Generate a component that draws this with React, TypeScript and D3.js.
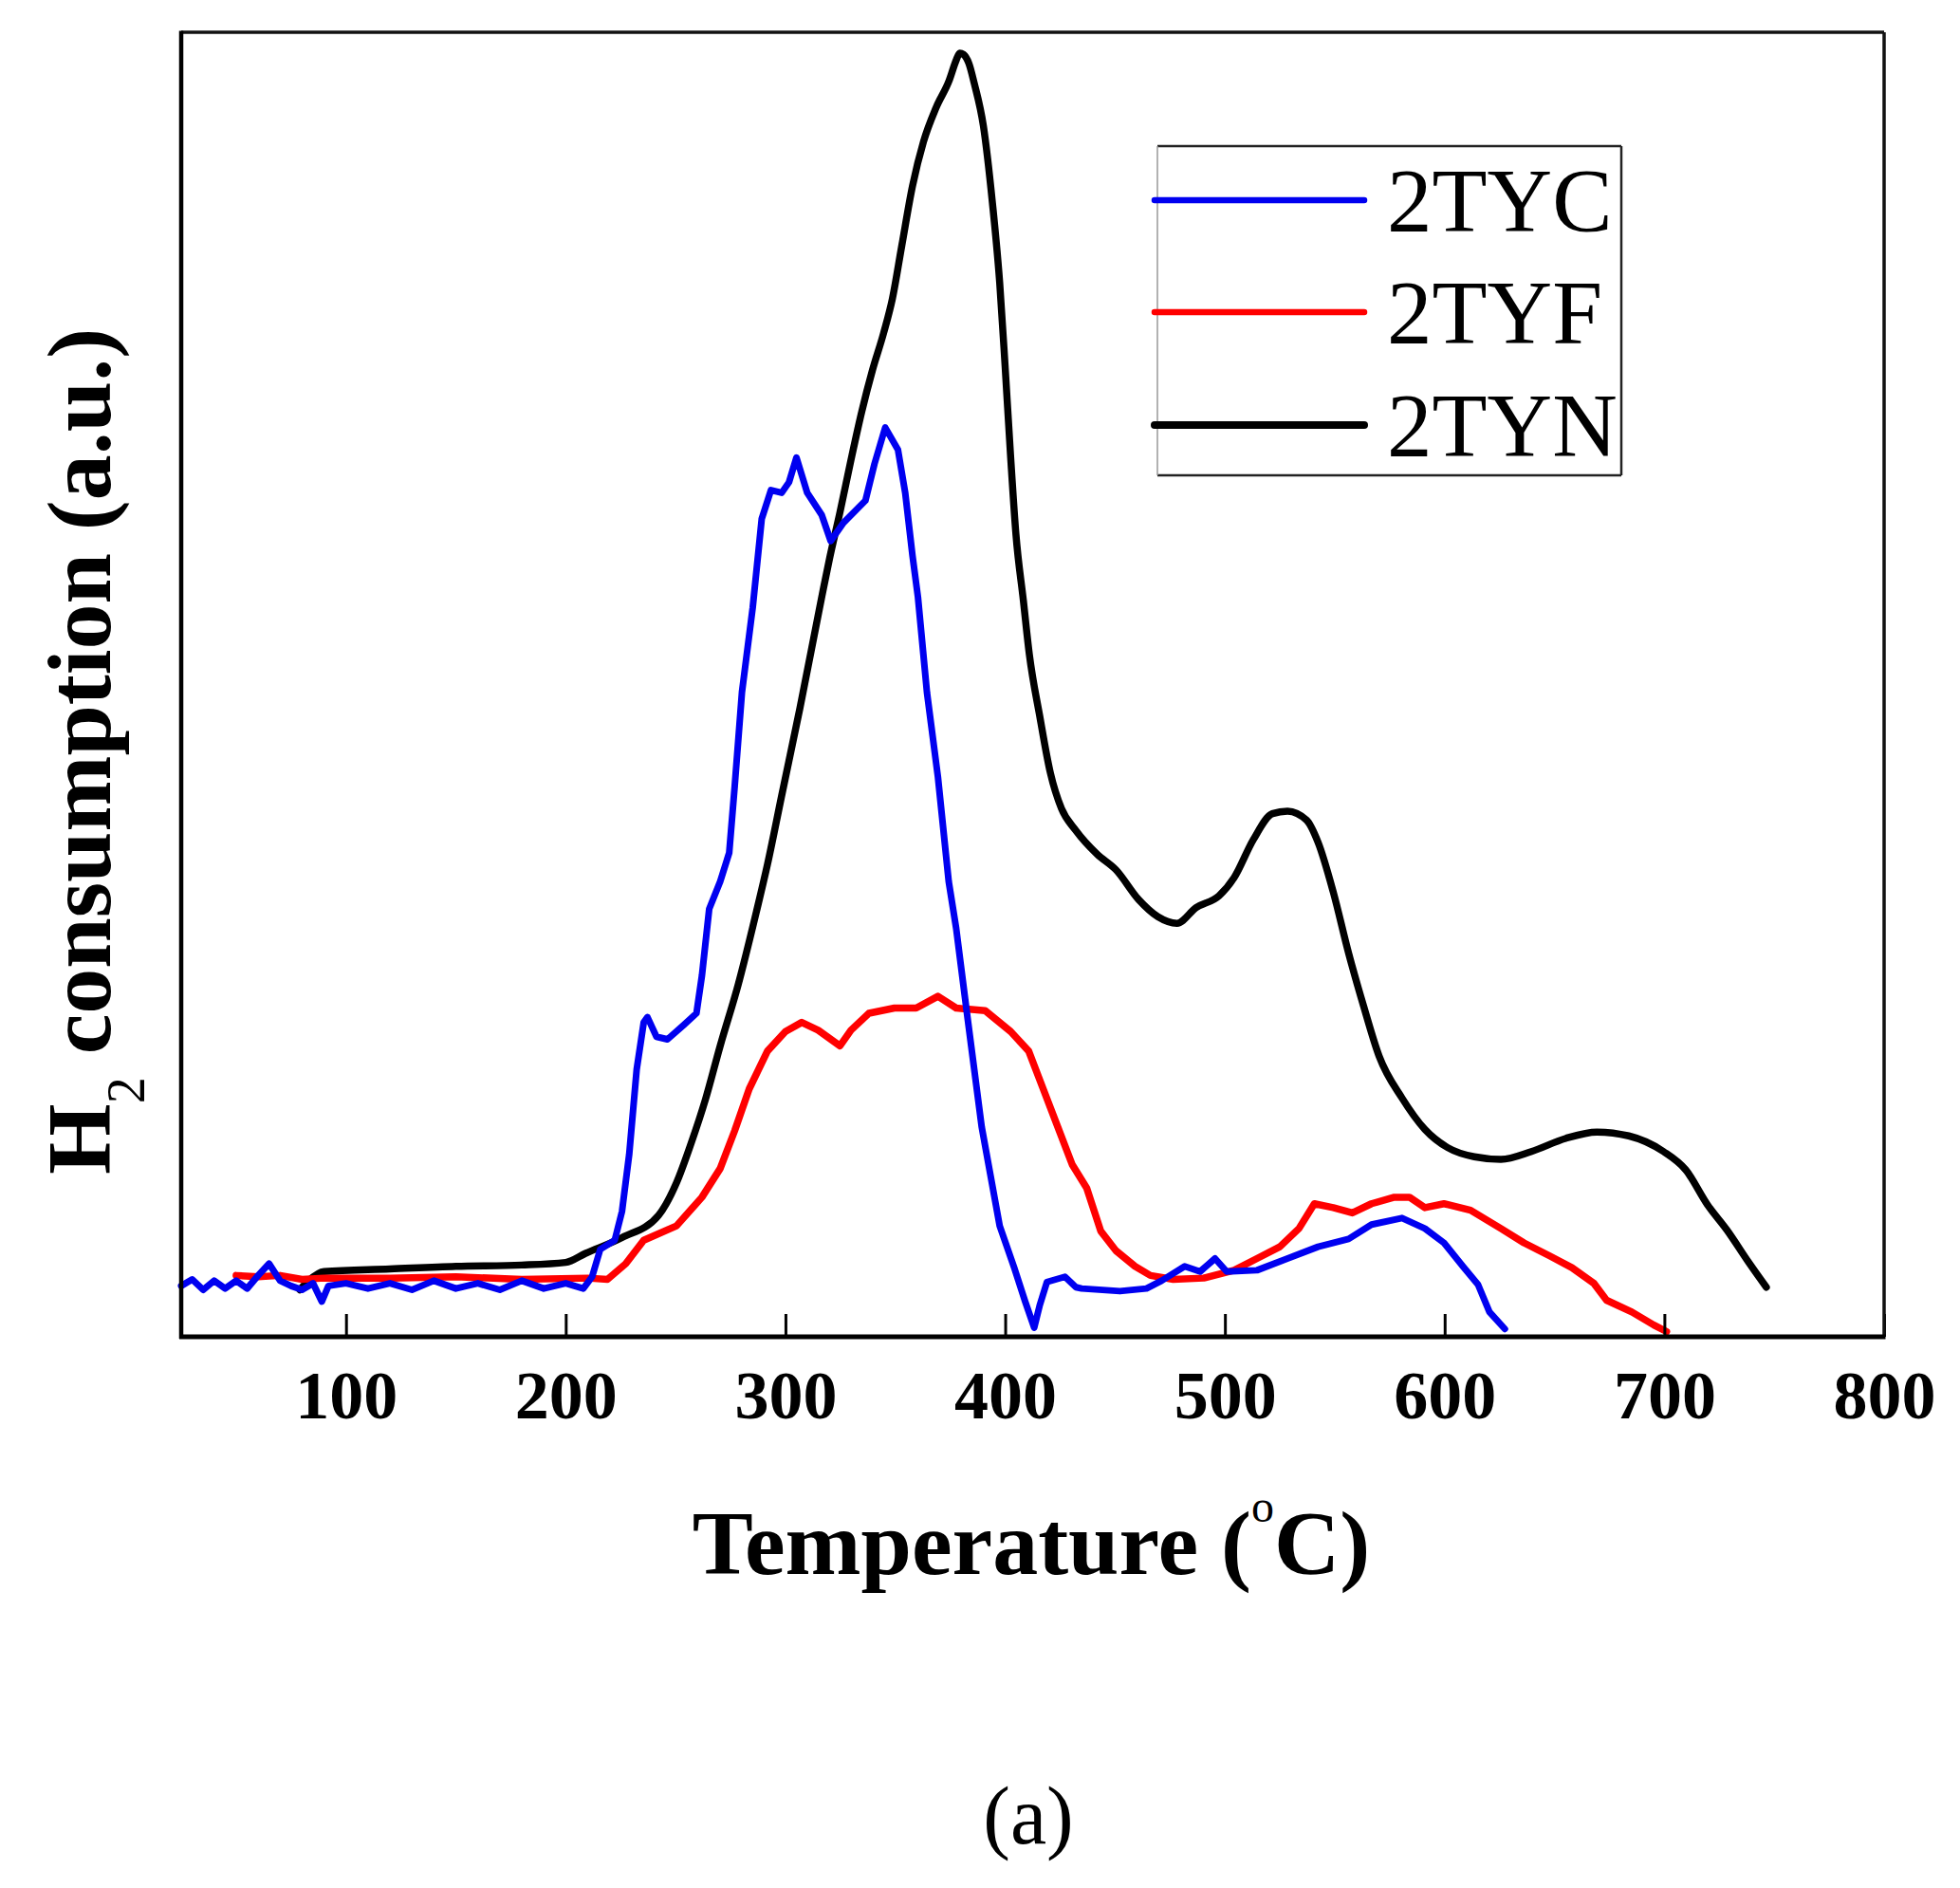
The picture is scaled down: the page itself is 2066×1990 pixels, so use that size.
import { useEffect, useRef } from "react";
import * as d3 from "d3";

// Temperature (°C) vs H2 consumption (a.u., 0-100 of the plot height)
const tempTicks = [100, 200, 300, 400, 500, 600, 700, 800];

const tyc: [number, number][] = [
  [25, 3.9], [30, 4.4], [35, 3.6], [40, 4.3], [45, 3.7], [50, 4.3], [55, 3.7], [60, 4.7],
  [65, 5.6], [70, 4.3], [75, 3.9], [80, 3.6], [85, 4.1], [89, 2.7], [92, 3.9], [100, 4.1],
  [110, 3.7], [120, 4.1], [130, 3.6], [140, 4.3], [150, 3.7], [160, 4.1], [170, 3.6],
  [180, 4.3], [190, 3.7], [200, 4.1], [208, 3.7], [212, 4.6], [215.7, 6.7], [222.3, 7.4],
  [225.6, 9.6], [228.9, 14.0], [232.3, 20.5], [235.5, 24.1], [237.2, 24.5], [241.3, 23.0],
  [246.3, 22.8], [253.7, 23.9], [259.5, 24.8], [262, 27.7], [265.3, 32.8], [270.3, 34.9],
  [274.4, 37.1], [276.9, 42.2], [280.2, 49.4], [285.1, 55.9], [289.2, 62.7], [293.4, 64.9],
  [298.3, 64.7], [301.6, 65.5], [305, 67.4], [309.9, 64.7], [316.5, 63.0], [320.6, 61.0],
  [326.4, 62.4], [336.4, 64.1], [340.5, 66.9], [345.4, 69.7], [351.2, 68.0], [354.5, 64.7],
  [357.8, 59.9], [360.3, 56.7], [364.4, 49.4], [369.4, 42.9], [374.3, 34.9], [377.7, 31.3],
  [382.6, 24.8], [389.3, 16.1], [397.5, 8.5], [404.1, 5.3], [409.1, 2.7], [413.2, 0.7],
  [415.7, 2.4], [419, 4.2], [427.2, 4.6], [432.2, 3.8], [434.8, 3.7], [452.2, 3.5],
  [464.3, 3.7], [471.2, 4.3], [481.7, 5.4], [488.7, 5.0], [495.5, 6.0], [500.8, 5.0],
  [514.6, 5.1], [528.5, 6.0], [542.4, 6.9], [556.3, 7.5], [566.7, 8.6], [580.6, 9.1],
  [591, 8.3], [599.7, 7.2], [608.3, 5.4], [615.2, 4.0], [620.4, 1.9], [627.4, 0.6],
];

const tyf: [number, number][] = [
  [50, 4.7], [60, 4.6], [70, 4.7], [80, 4.4], [90, 4.5], [120, 4.5], [150, 4.6], [180, 4.4],
  [210, 4.5], [219, 4.4], [227.3, 5.6], [235.5, 7.4], [250.4, 8.5], [262, 10.7], [270.3, 12.9],
  [276.9, 15.8], [283.5, 19.0], [291.8, 21.9], [300, 23.4], [307.4, 24.1], [314.9, 23.5],
  [324.8, 22.3], [329.8, 23.5], [338, 24.8], [349.6, 25.2], [359.5, 25.2], [369.4, 26.1],
  [377.7, 25.2], [390.9, 25.0], [402.5, 23.4], [410.7, 21.9], [417.3, 19.0], [423.9, 16.1],
  [430.5, 13.2], [437.1, 11.4], [443.5, 8.1], [450.4, 6.6], [459.1, 5.4], [466.1, 4.7],
  [476.5, 4.4], [490.3, 4.5], [504.2, 5.1], [514.6, 6.0], [525, 6.9], [533.7, 8.3],
  [540.7, 10.2], [549.3, 9.9], [558, 9.5], [566.7, 10.2], [577.1, 10.7], [584, 10.7],
  [591, 9.9], [599.7, 10.2], [611.8, 9.7], [625.6, 8.3], [636.1, 7.2], [647.8, 6.2],
  [657.9, 5.3], [667.9, 4.1], [673.7, 2.8], [685.2, 1.9], [695.2, 0.9], [701, 0.4],
];

const tyn: [number, number][] = [
  [79, 3.6], [83, 4.3], [90, 5.0], [120, 5.2], [150, 5.4], [180, 5.5], [200, 5.7],
  [209.1, 6.4], [225.6, 7.6], [242.2, 9.3], [250.4, 11.8], [257, 14.8], [263.6, 18.2],
  [270.3, 22.3], [278.5, 27.0], [286.8, 32.6], [291.8, 36.2], [298.3, 41.5], [306.6, 48.2],
  [316.5, 56.7], [320, 59.6], [324.8, 63.2], [329.8, 67.2], [334.7, 70.9], [339.6, 74.1],
  [344.6, 76.9], [348.7, 79.6], [352.9, 83.6], [357.8, 88.2], [362.8, 91.6], [368.5, 94.2],
  [374.5, 96.3], [377.8, 97.9], [379.3, 98.4], [381, 98.3], [383.5, 97.6], [385.9, 96.1],
  [390.1, 92.8], [394.2, 86.9], [397.5, 80.8], [400, 74.3], [402.5, 67.4], [404.9, 61.5],
  [408.3, 56.4], [411, 52.3], [415.7, 47.6], [420.6, 43.2], [425.6, 40.5], [432.2, 38.8],
  [441.8, 37.0], [450.4, 35.8], [460.8, 33.5], [469.5, 32.2], [478.2, 31.7], [486.9, 32.9],
  [497.3, 33.8], [504.2, 35.2], [512.9, 38.1], [521.6, 40.1], [528.5, 40.3], [537.2, 39.6],
  [542.4, 37.9], [549.3, 34.1], [556.3, 29.4], [563.2, 25.3], [570.2, 21.5], [580.6, 18.3],
  [591, 15.9], [601.4, 14.5], [613.5, 13.8], [625.6, 13.6], [639.5, 14.2], [655, 15.2],
  [669.3, 15.7], [683.8, 15.4], [699.6, 14.2], [709.7, 12.8], [719.7, 10.1], [728.4, 8.2],
  [738.4, 5.7], [746.4, 3.8],
];

const seriesNames = ["2TYC", "2TYF", "2TYN"];
const seriesColors = ["#0000f0", "#ff0000", "#000000"];

const W = 2066;
const H = 1990;

export default function App() {
  const svgRef = useRef<SVGSVGElement>(null);

  useEffect(() => {
    if (!svgRef.current) return;
    const svg = d3.select(svgRef.current);
    svg.selectAll("*").remove();

    const left = 191, right = 1986, top = 34, bottom = 1409;
    const x = d3.scaleLinear().domain([25, 800]).range([left, right]);
    const y = d3.scaleLinear().domain([0, 100]).range([bottom, top]);
    const serif = "'Liberation Serif', 'Times New Roman', serif";

    svg.append("rect").attr("width", W).attr("height", H).attr("fill", "#fff");

    // curves (black under, blue on top)
    const lineLin = d3.line<[number, number]>().x(d => x(d[0])).y(d => y(d[1]));
    const lineSmooth = d3.line<[number, number]>()
      .x(d => x(d[0])).y(d => y(d[1]))
      .curve(d3.curveMonotoneX);

    const plot = svg.append("g");
    plot.append("path").datum(tyn).attr("d", lineSmooth)
      .attr("fill", "none").attr("stroke", seriesColors[2]).attr("stroke-width", 7.5)
      .attr("stroke-linejoin", "round").attr("stroke-linecap", "round");
    plot.append("path").datum(tyf).attr("d", lineLin)
      .attr("fill", "none").attr("stroke", seriesColors[1]).attr("stroke-width", 7.5)
      .attr("stroke-linejoin", "round").attr("stroke-linecap", "round");
    plot.append("path").datum(tyc).attr("d", lineLin)
      .attr("fill", "none").attr("stroke", seriesColors[0]).attr("stroke-width", 7)
      .attr("stroke-linejoin", "round").attr("stroke-linecap", "round");

    // x axis with inward ticks
    const xAxis = svg.append("g")
      .attr("transform", `translate(0,${bottom})`)
      .call(
        d3.axisBottom(x)
          .tickValues(tempTicks)
          .tickSizeInner(-24)
          .tickSizeOuter(0)
          .tickPadding(35)
          .tickFormat(d3.format("d"))
      );
    xAxis.select(".domain").remove();
    xAxis.selectAll(".tick line").attr("stroke", "#000").attr("stroke-width", 3);
    xAxis.selectAll(".tick text")
      .attr("fill", "#000")
      .style("font-family", serif)
      .style("font-weight", "bold")
      .style("font-size", "72px");

    // frame
    svg.append("line").attr("x1", left).attr("x2", right).attr("y1", top).attr("y2", top)
      .attr("stroke", "#111").attr("stroke-width", 3.5);
    svg.append("line").attr("x1", right).attr("x2", right).attr("y1", top).attr("y2", bottom)
      .attr("stroke", "#111").attr("stroke-width", 3.5);
    svg.append("line").attr("x1", left).attr("x2", left).attr("y1", top - 1.5).attr("y2", bottom + 2)
      .attr("stroke", "#000").attr("stroke-width", 4.5);
    svg.append("line").attr("x1", left - 2).attr("x2", right + 1.5).attr("y1", bottom).attr("y2", bottom)
      .attr("stroke", "#000").attr("stroke-width", 5);

    // legend
    const lg = svg.append("g");
    const lgL = 1220, lgR = 1709, lgT = 154, lgB = 501;
    lg.append("line").attr("x1", lgL).attr("x2", lgR).attr("y1", lgT).attr("y2", lgT)
      .attr("stroke", "#222").attr("stroke-width", 2.5);
    lg.append("line").attr("x1", lgR).attr("x2", lgR).attr("y1", lgT).attr("y2", lgB)
      .attr("stroke", "#222").attr("stroke-width", 2.5);
    lg.append("line").attr("x1", lgL).attr("x2", lgR).attr("y1", lgB).attr("y2", lgB)
      .attr("stroke", "#222").attr("stroke-width", 2.5);
    lg.append("line").attr("x1", lgL).attr("x2", lgL).attr("y1", lgT).attr("y2", lgB)
      .attr("stroke", "#999").attr("stroke-width", 1.5);
    const rowY = [211, 329, 448];
    seriesNames.forEach((name, i) => {
      lg.append("line")
        .attr("x1", 1217).attr("x2", 1438).attr("y1", rowY[i]).attr("y2", rowY[i])
        .attr("stroke", seriesColors[i]).attr("stroke-width", i === 2 ? 8 : 6.5)
        .attr("stroke-linecap", "round");
      lg.append("text")
        .attr("x", 1462).attr("y", rowY[i] + 33)
        .attr("fill", "#000")
        .style("font-family", serif)
        .style("font-size", "95px")
        .text(name);
    });

    // x title
    const xt = svg.append("text")
      .attr("x", 1087).attr("y", 1659)
      .attr("text-anchor", "middle")
      .attr("fill", "#000")
      .style("font-family", serif)
      .style("font-weight", "bold")
      .style("font-size", "96px");
    xt.append("tspan").text("Temperature (");
    xt.append("tspan").attr("dy", -55).style("font-size", "48px").style("font-weight", "normal").text("o");
    xt.append("tspan").attr("dy", 55).text("C)");

    // y title
    const yt = svg.append("text")
      .attr("transform", "translate(116,1238) rotate(-90)")
      .attr("fill", "#000")
      .style("font-family", serif)
      .style("font-weight", "bold")
      .style("font-size", "96px");
    yt.append("tspan").text("H");
    yt.append("tspan").attr("dy", 36).style("font-size", "56px").style("font-weight", "normal").text("2");
    yt.append("tspan").attr("dy", -36).text(" consumption (a.u.)");

    // panel label
    svg.append("text")
      .attr("x", 1084).attr("y", 1943)
      .attr("text-anchor", "middle")
      .attr("fill", "#000")
      .style("font-family", serif)
      .style("font-size", "86px")
      .text("(a)");
  }, []);

  return (
    <svg
      ref={svgRef}
      width={W}
      height={H}
      style={{ position: "absolute", left: 0, top: 0, display: "block" }}
    />
  );
}
